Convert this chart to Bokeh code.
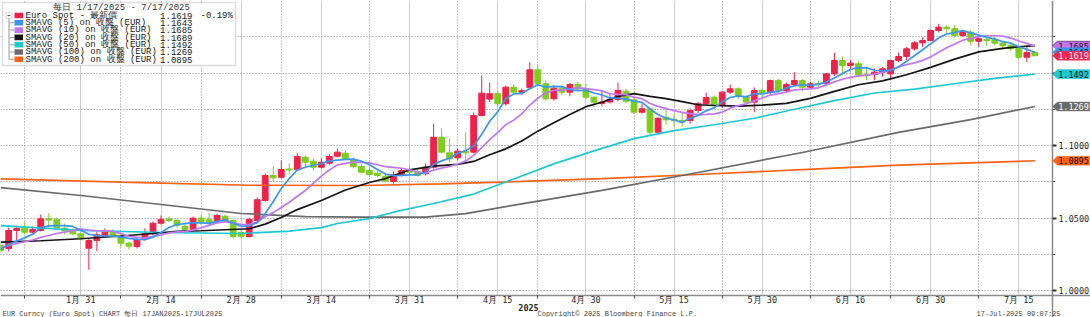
from bokeh.plotting import figure
from bokeh.models import (Range1d, FixedTicker, NumeralTickFormatter, BoxAnnotation,
                          PolyAnnotation, Label, ColumnDataSource)
from bokeh.embed import file_html
from bokeh.resources import INLINE

# ---------------- data (EUR/USD daily, 17 Jan 2025 - 17 Jul 2025) ----------------
opens = [1.0310, 1.0290, 1.0414, 1.0430, 1.0402, 1.0414, 1.0494, 1.0488, 1.0430, 1.0414,
         1.0391, 1.0292, 1.0345, 1.0372, 1.0402, 1.0372, 1.0326, 1.0303, 1.0357, 1.0391,
         1.0464, 1.0494, 1.0483, 1.0443, 1.0421, 1.0499, 1.0488, 1.0476, 1.0512, 1.0483,
         1.0400, 1.0372, 1.0483, 1.0621, 1.0793, 1.0781, 1.0838, 1.0832, 1.0919, 1.0892,
         1.0850, 1.0878, 1.0926, 1.0947, 1.0901, 1.0855, 1.0828, 1.0809, 1.0788, 1.0752,
         1.0798, 1.0828, 1.0821, 1.0805, 1.0850, 1.1057, 1.0950, 1.0915, 1.0961, 1.0954,
         1.1207, 1.1320, 1.1357, 1.1288, 1.1402, 1.1368, 1.1398, 1.1522, 1.1426, 1.1322,
         1.1395, 1.1368, 1.1421, 1.1390, 1.1333, 1.1290, 1.1300, 1.1318, 1.1375, 1.1315,
         1.1230, 1.1253, 1.1092, 1.1195, 1.1180, 1.1172, 1.1172, 1.1241, 1.1288, 1.1333,
         1.1276, 1.1368, 1.1391, 1.1338, 1.1299, 1.1379, 1.1368, 1.1448, 1.1379, 1.1420,
         1.1448, 1.1402, 1.1426, 1.1426, 1.1494, 1.1586, 1.1552, 1.1563, 1.1488, 1.1490,
         1.1506, 1.1494, 1.1586, 1.1614, 1.1667, 1.1708, 1.1724, 1.1793, 1.1816, 1.1805,
         1.1759, 1.1781, 1.1719, 1.1731, 1.1729, 1.1706, 1.1690, 1.1674, 1.1609, 1.1641]
highs = [1.0331, 1.0434, 1.0441, 1.0469, 1.0441, 1.0524, 1.0533, 1.0503, 1.0462, 1.0428,
         1.0400, 1.0359, 1.0407, 1.0428, 1.0421, 1.0386, 1.0338, 1.0366, 1.0430, 1.0476,
         1.0517, 1.0507, 1.0490, 1.0455, 1.0510, 1.0517, 1.0533, 1.0531, 1.0524, 1.0490,
         1.0421, 1.0503, 1.0641, 1.0807, 1.0855, 1.0897, 1.0876, 1.0947, 1.0931, 1.0910,
         1.0912, 1.0938, 1.0979, 1.0966, 1.0917, 1.0869, 1.0855, 1.0828, 1.0807, 1.0821,
         1.0841, 1.0855, 1.0841, 1.0876, 1.1150, 1.1117, 1.1046, 1.0979, 1.1092, 1.1228,
         1.1483, 1.1434, 1.1380, 1.1414, 1.1421, 1.1392, 1.1574, 1.1552, 1.1448, 1.1414,
         1.1414, 1.1430, 1.1440, 1.1425, 1.1340, 1.1380, 1.1360, 1.1434, 1.1390, 1.1330,
         1.1290, 1.1265, 1.1195, 1.1265, 1.1215, 1.1230, 1.1255, 1.1300, 1.1365, 1.1345,
         1.1375, 1.1420, 1.1400, 1.1345, 1.1400, 1.1390, 1.1455, 1.1460, 1.1435, 1.1506,
         1.1460, 1.1440, 1.1450, 1.1500, 1.1639, 1.1614, 1.1590, 1.1580, 1.1540, 1.1530,
         1.1540, 1.1590, 1.1640, 1.1680, 1.1720, 1.1745, 1.1800, 1.1839, 1.1830, 1.1830,
         1.1795, 1.1795, 1.1760, 1.1750, 1.1750, 1.1720, 1.1700, 1.1690, 1.1680, 1.1650]
lows = [1.0262, 1.0269, 1.0345, 1.0386, 1.0393, 1.0407, 1.0434, 1.0428, 1.0386, 1.0379,
        1.0345, 1.0143, 1.0271, 1.0366, 1.0372, 1.0297, 1.0283, 1.0290, 1.0345, 1.0379,
        1.0455, 1.0469, 1.0434, 1.0407, 1.0414, 1.0455, 1.0448, 1.0469, 1.0469, 1.0359,
        1.0362, 1.0366, 1.0476, 1.0614, 1.0747, 1.0772, 1.0807, 1.0828, 1.0850, 1.0828,
        1.0841, 1.0869, 1.0917, 1.0897, 1.0841, 1.0807, 1.0786, 1.0779, 1.0745, 1.0738,
        1.0786, 1.0800, 1.0786, 1.0793, 1.0841, 1.0945, 1.0883, 1.0897, 1.0876, 1.0945,
        1.1200, 1.1300, 1.1265, 1.1276, 1.1352, 1.1350, 1.1393, 1.1414, 1.1310, 1.1310,
        1.1345, 1.1340, 1.1375, 1.1320, 1.1265, 1.1270, 1.1290, 1.1305, 1.1290, 1.1215,
        1.1220, 1.1065, 1.1085, 1.1145, 1.1130, 1.1130, 1.1150, 1.1220, 1.1280, 1.1250,
        1.1260, 1.1355, 1.1320, 1.1280, 1.1230, 1.1330, 1.1355, 1.1360, 1.1365, 1.1410,
        1.1375, 1.1390, 1.1390, 1.1415, 1.1480, 1.1490, 1.1520, 1.1470, 1.1450, 1.1450,
        1.1475, 1.1455, 1.1575, 1.1590, 1.1655, 1.1680, 1.1720, 1.1780, 1.1760, 1.1740,
        1.1750, 1.1690, 1.1680, 1.1685, 1.1690, 1.1660, 1.1650, 1.1595, 1.1574, 1.1615]
closes = [1.0276, 1.0414, 1.0428, 1.0402, 1.0421, 1.0494, 1.0486, 1.0432, 1.0410, 1.0391,
          1.0363, 1.0345, 1.0384, 1.0402, 1.0379, 1.0326, 1.0306, 1.0350, 1.0391, 1.0464,
          1.0490, 1.0483, 1.0448, 1.0421, 1.0499, 1.0476, 1.0471, 1.0517, 1.0478, 1.0372,
          1.0375, 1.0490, 1.0626, 1.0793, 1.0777, 1.0834, 1.0831, 1.0924, 1.0885, 1.0850,
          1.0885, 1.0924, 1.0954, 1.0908, 1.0855, 1.0816, 1.0800, 1.0793, 1.0754, 1.0798,
          1.0828, 1.0816, 1.0793, 1.0850, 1.1057, 1.0954, 1.0908, 1.0961, 1.0950, 1.1207,
          1.1361, 1.1357, 1.1288, 1.1402, 1.1368, 1.1378, 1.1522, 1.1426, 1.1322, 1.1395,
          1.1368, 1.1421, 1.1390, 1.1333, 1.1299, 1.1300, 1.1318, 1.1379, 1.1306, 1.1230,
          1.1253, 1.1092, 1.1188, 1.1177, 1.1172, 1.1163, 1.1241, 1.1288, 1.1331, 1.1276,
          1.1368, 1.1391, 1.1345, 1.1299, 1.1379, 1.1361, 1.1448, 1.1379, 1.1420, 1.1448,
          1.1402, 1.1426, 1.1420, 1.1494, 1.1586, 1.1552, 1.1568, 1.1488, 1.1482, 1.1506,
          1.1529, 1.1586, 1.1614, 1.1667, 1.1708, 1.1724, 1.1793, 1.1816, 1.1805, 1.1759,
          1.1785, 1.1719, 1.1736, 1.1724, 1.1706, 1.1690, 1.1669, 1.1609, 1.1641, 1.1619]

sma5 = [1.0283, 1.0317, 1.0341, 1.0363, 1.0388, 1.0432, 1.0446, 1.0447, 1.0448, 1.0442,
        1.0416, 1.0388, 1.0378, 1.0377, 1.0374, 1.0368, 1.0359, 1.0352, 1.0350, 1.0368,
        1.0400, 1.0435, 1.0455, 1.0461, 1.0468, 1.0466, 1.0463, 1.0477, 1.0488, 1.0463,
        1.0443, 1.0446, 1.0468, 1.0531, 1.0612, 1.0704, 1.0772, 1.0831, 1.0850, 1.0864,
        1.0874, 1.0894, 1.0899, 1.0904, 1.0906, 1.0892, 1.0867, 1.0834, 1.0803, 1.0792,
        1.0794, 1.0798, 1.0798, 1.0817, 1.0869, 1.0894, 1.0912, 1.0946, 1.0966, 1.0996,
        1.1077, 1.1167, 1.1232, 1.1323, 1.1355, 1.1359, 1.1392, 1.1419, 1.1403, 1.1408,
        1.1406, 1.1386, 1.1379, 1.1381, 1.1362, 1.1348, 1.1328, 1.1326, 1.1320, 1.1306,
        1.1297, 1.1252, 1.1214, 1.1188, 1.1177, 1.1159, 1.1188, 1.1208, 1.1239, 1.1260,
        1.1301, 1.1331, 1.1342, 1.1336, 1.1357, 1.1355, 1.1366, 1.1373, 1.1397, 1.1411,
        1.1419, 1.1415, 1.1423, 1.1438, 1.1466, 1.1496, 1.1524, 1.1537, 1.1535, 1.1519,
        1.1514, 1.1518, 1.1543, 1.1580, 1.1621, 1.1660, 1.1701, 1.1741, 1.1769, 1.1779,
        1.1792, 1.1777, 1.1761, 1.1746, 1.1735, 1.1716, 1.1706, 1.1681, 1.1663, 1.1643]
sma10 = [1.0299, 1.0310, 1.0324, 1.0336, 1.0348, 1.0366, 1.0379, 1.0393, 1.0403, 1.0415,
         1.0424, 1.0417, 1.0412, 1.0412, 1.0408, 1.0392, 1.0374, 1.0366, 1.0363, 1.0371,
         1.0383, 1.0397, 1.0404, 1.0406, 1.0418, 1.0432, 1.0449, 1.0466, 1.0474, 1.0466,
         1.0454, 1.0454, 1.0472, 1.0510, 1.0537, 1.0573, 1.0609, 1.0650, 1.0690, 1.0738,
         1.0789, 1.0832, 1.0866, 1.0877, 1.0885, 1.0883, 1.0880, 1.0867, 1.0854, 1.0849,
         1.0843, 1.0832, 1.0816, 1.0810, 1.0830, 1.0844, 1.0855, 1.0872, 1.0892, 1.0932,
         1.0986, 1.1040, 1.1089, 1.1144, 1.1175, 1.1218, 1.1279, 1.1326, 1.1363, 1.1381,
         1.1382, 1.1389, 1.1399, 1.1392, 1.1386, 1.1377, 1.1357, 1.1352, 1.1351, 1.1334,
         1.1323, 1.1290, 1.1270, 1.1254, 1.1241, 1.1228, 1.1220, 1.1211, 1.1214, 1.1218,
         1.1230, 1.1259, 1.1275, 1.1288, 1.1308, 1.1328, 1.1348, 1.1358, 1.1367, 1.1384,
         1.1387, 1.1390, 1.1398, 1.1418, 1.1439, 1.1457, 1.1470, 1.1480, 1.1486, 1.1492,
         1.1505, 1.1521, 1.1541, 1.1558, 1.1570, 1.1587, 1.1610, 1.1643, 1.1674, 1.1700,
         1.1726, 1.1739, 1.1751, 1.1757, 1.1757, 1.1754, 1.1741, 1.1721, 1.1704, 1.1685]

sma20_idx = [0, 5, 10, 15, 19, 22, 25, 28, 31, 33, 35, 37, 40, 43, 46, 48, 51, 54, 57, 59,
             61, 63, 65, 67, 69, 71, 73, 75, 77, 79, 81, 83, 85, 87, 89, 92, 95, 98, 101,
             104, 107, 110, 113, 116, 119, 122, 125, 127, 129]
sma20 = [1.0333, 1.0343, 1.0357, 1.0376, 1.0393, 1.0408, 1.0412, 1.0419, 1.0426, 1.0458,
         1.0503, 1.0558, 1.0621, 1.0693, 1.0745, 1.0772, 1.0832, 1.0858, 1.0870, 1.0890,
         1.0936, 1.0977, 1.1031, 1.1099, 1.1157, 1.1214, 1.1268, 1.1298, 1.1339, 1.1358,
         1.1339, 1.1323, 1.1303, 1.1281, 1.1276, 1.1272, 1.1278, 1.1290, 1.1325, 1.1373,
         1.1419, 1.1446, 1.1488, 1.1539, 1.1596, 1.1646, 1.1670, 1.1681, 1.1689]

sma50_idx = [0, 10, 20, 30, 36, 40, 42, 46, 49, 54, 59, 64, 69, 74, 79, 84, 89, 94, 99,
             104, 109, 114, 119, 124, 129]
sma50 = [1.0448, 1.0414, 1.0400, 1.0393, 1.0410, 1.0434, 1.0462, 1.0496, 1.0540, 1.0600,
         1.0665, 1.0769, 1.0873, 1.0963, 1.1047, 1.1103, 1.1143, 1.1188, 1.1250, 1.1310,
         1.1362, 1.1389, 1.1426, 1.1463, 1.1492]

sma100_idx = [0, 10, 20, 30, 38, 45, 53, 58, 65, 75, 87, 100, 112, 121, 129]
sma100 = [1.0710, 1.0655, 1.0593, 1.0531, 1.0510, 1.0506, 1.0506, 1.0530, 1.0598, 1.0690,
          1.0814, 1.0952, 1.1090, 1.1179, 1.1269]

sma200_idx = [0, 15, 31, 45, 55, 65, 75, 87, 100, 112, 121, 129]
sma200 = [1.0770, 1.0748, 1.0726, 1.0724, 1.0735, 1.0752, 1.0772, 1.0800, 1.0834, 1.0864,
          1.0880, 1.0895]

tick_idx = [10, 20, 30, 40, 51, 62, 73, 84, 95, 106, 116, 127]
tick_labels = ["1月 31", "2月 14", "2月 28", "3月 14", "3月 31", "4月 15",
               "4月 30", "5月 15", "5月 30", "6月 16", "6月 30", "7月 15"]
minor_idx = [3, 15, 25, 35, 46, 57, 67, 79, 90, 101, 111, 122]

legend_names = ["Euro Spot - 最新價", "SMAVG (5) on 收盤 (EUR)", "SMAVG (10) on 收盤 (EUR)",
                "SMAVG (20) on 收盤 (EUR)", "SMAVG (50) on 收盤 (EUR)",
                "SMAVG (100) on 收盤 (EUR)", "SMAVG (200) on 收盤 (EUR)"]
legend_values = ["1.1619", "1.1643", "1.1685", "1.1689", "1.1492", "1.1269", "1.0895"]
last_change = "-0.19%"
last_values = [1.1619, 1.1643, 1.1685, 1.1689, 1.1492, 1.1269, 1.0895]

# ---------------- styling / layout ----------------
UP = "#f0224a"
DOWN = "#7ccd1c"
C_SPOT = "#f0224a"
C5, C10, C20, C50, C100, C200 = "#3a96f0", "#c575f4", "#151515", "#1cc9d3", "#6a6a6a", "#ff6212"

W, H = 1090, 317
PX_PER_BAR = 8.017          # horizontal scale (pixels per trading day)
PX_PER_UNIT = 1450.0        # vertical scale (pixels per 1.0 of price)
X0 = -0.02
XE = X0 + W / PX_PER_BAR
YT = 1.2
YB = YT - H / PX_PER_UNIT


def X(px):
    return X0 + px / PX_PER_BAR


def Y(py):
    return YT - py / PX_PER_UNIT


MONO = "DejaVu Sans Mono"
LMONO = "Liberation Mono"

p = figure(width=W, height=H, x_range=Range1d(X0, XE), y_range=Range1d(YB, YT),
           output_backend="svg", toolbar_location=None, y_axis_location="right",
           x_axis_location="below", min_border=0, min_border_left=0, min_border_right=0,
           min_border_top=0, min_border_bottom=0, title=None)
p.outline_line_color = None
p.background_fill_color = "white"
p.border_fill_color = "white"

# axes, drawn at fixed positions inside the canvas
p.xaxis.fixed_location = Y(295)
p.yaxis.fixed_location = X(1052)

p.xaxis.ticker = FixedTicker(ticks=tick_idx, minor_ticks=minor_idx)
p.xaxis.major_label_overrides = {t: lab for t, lab in zip(tick_idx, tick_labels)}
p.xaxis.axis_line_color = "#8a8a8a"
p.xaxis.axis_line_width = 1.5
p.xaxis.major_tick_in = 0
p.xaxis.major_tick_out = 0
p.xaxis.minor_tick_in = 0
p.xaxis.minor_tick_out = 3
p.xaxis.minor_tick_line_color = "#444444"
p.xaxis.major_label_standoff = -4
p.xaxis.major_label_text_font = MONO
p.xaxis.major_label_text_font_size = "8.5px"
p.xaxis.major_label_text_color = "#2a2a2a"

p.yaxis.ticker = FixedTicker(ticks=[1.0, 1.05, 1.1, 1.15], minor_ticks=[1.025, 1.075, 1.125, 1.175])
p.yaxis.formatter = NumeralTickFormatter(format="0.0000")
p.yaxis.axis_line_color = "#8a8a8a"
p.yaxis.axis_line_width = 1.5
p.yaxis.major_tick_in = 0
p.yaxis.major_tick_out = 4
p.yaxis.major_tick_line_width = 2
p.yaxis.major_tick_line_color = "#333333"
p.yaxis.minor_tick_in = 0
p.yaxis.minor_tick_out = 3
p.yaxis.minor_tick_line_color = "#555555"
p.yaxis.major_label_standoff = 2
p.yaxis.major_label_text_font = MONO
p.yaxis.major_label_text_font_size = "8.5px"
p.yaxis.major_label_text_color = "#2a2a2a"

p.xgrid.grid_line_color = "#cccccc"
p.xgrid.grid_line_width = 1
p.xgrid.minor_grid_line_color = "#8c8c8c"
p.xgrid.minor_grid_line_dash = "1 2"
p.ygrid.grid_line_color = "#8c8c8c"
p.ygrid.grid_line_dash = "1 2"
p.ygrid.minor_grid_line_color = "#8c8c8c"
p.ygrid.minor_grid_line_dash = "1 2"

# white margins (cover grid lines outside the chart area)
p.add_layout(BoxAnnotation(left=X(1052), right=XE, top=YT, bottom=YB, fill_color="white",
                           fill_alpha=1, line_color=None, level="underlay"))
p.add_layout(BoxAnnotation(left=X0, right=XE, top=Y(295), bottom=YB, fill_color="white",
                           fill_alpha=1, line_color=None, level="underlay"))

# candles
idx = list(range(len(closes)))
colors = [UP if c >= o else DOWN for o, c in zip(opens, closes)]
src = ColumnDataSource(dict(
    x=idx, high=highs, low=lows,
    top=[max(o, c) for o, c in zip(opens, closes)],
    bottom=[min(o, c) for o, c in zip(opens, closes)],
    color=colors))
p.segment(x0="x", y0="low", x1="x", y1="high", source=src, line_color="color", line_width=1)
p.vbar(x="x", width=0.72, top="top", bottom="bottom", source=src,
       fill_color="color", line_color="color", line_width=1)

# moving averages
p.line(sma200_idx, sma200, line_color=C200, line_width=1.7)
p.line(sma100_idx, sma100, line_color=C100, line_width=1.7)
p.line(sma50_idx, sma50, line_color=C50, line_width=1.7)
p.line(sma20_idx, sma20, line_color=C20, line_width=1.7)
p.line(idx, sma10, line_color=C10, line_width=1.7)
p.line(idx, sma5, line_color=C5, line_width=1.7)

# legend box
p.add_layout(BoxAnnotation(left=X(2), right=X(235), top=Y(2), bottom=Y(65),
                           fill_color="white", fill_alpha=1.0,
                           line_color="#8f8f8f", line_width=1.5))
p.add_layout(Label(x=X(121), y=Y(7.5), text="每日 1/17/2025 - 7/17/2025",
                   text_font=LMONO, text_font_size="9px", text_color="#333333",
                   text_align="center", text_baseline="middle"))
sw_colors = [C_SPOT, C5, C10, C20, C50, C100, C200]
p.add_layout(BoxAnnotation(left=X(8), right=X(9), top=Y(18), bottom=Y(59),
                           fill_color="#9a9a9a", fill_alpha=1, line_color=None))
p.add_layout(BoxAnnotation(left=X(5.5), right=X(11.5), top=Y(12), bottom=Y(18),
                           fill_color="white", fill_alpha=1, line_color="#8a8a8a", line_width=1))
p.add_layout(BoxAnnotation(left=X(7), right=X(10), top=Y(14.6), bottom=Y(15.4),
                           fill_color="#666666", fill_alpha=1, line_color=None))
for k, (name, val, col) in enumerate(zip(legend_names, legend_values, sw_colors)):
    ry = 15 + 7.3 * k
    if k > 0:
        p.add_layout(BoxAnnotation(left=X(9), right=X(13.5), top=Y(ry - 0.5), bottom=Y(ry + 0.5),
                                   fill_color="#9a9a9a", fill_alpha=1, line_color=None))
    p.add_layout(BoxAnnotation(left=X(14), right=X(22.5), top=Y(ry - 2.8), bottom=Y(ry + 2.8),
                               fill_color=col, fill_alpha=1, line_color=None))
    p.add_layout(Label(x=X(25), y=Y(ry + 0.3), text=name, text_font=LMONO, text_font_size="9px",
                       text_color="#1a1a1a", text_align="left", text_baseline="middle"))
    p.add_layout(Label(x=X(192), y=Y(ry + 0.3), text=val, text_font=LMONO, text_font_size="9px",
                       text_color="#1a1a1a", text_align="right", text_baseline="middle"))
p.add_layout(Label(x=X(200), y=Y(15.3), text=last_change, text_font=LMONO, text_font_size="9px",
                   text_color="#1a1a1a", text_align="left", text_baseline="middle"))

# price tags on the right axis
tag_order = [3, 2, 1, 0, 4, 5, 6]
tag_colors = [C_SPOT, C5, C10, C20, C50, C100, C200]
tag_text_colors = ["white", "#111111", "#111111", "white", "#111111", "white", "#111111"]
hh = 4.6 / PX_PER_UNIT
for k in tag_order:
    v = last_values[k]
    p.add_layout(PolyAnnotation(xs=[X(1052), X(1057), X(1089), X(1089), X(1057)],
                                ys=[v, v + hh, v + hh, v - hh, v - hh],
                                fill_color=tag_colors[k], fill_alpha=1.0,
                                line_color="#333333" if k == 3 else tag_colors[k], line_width=1))
    p.add_layout(Label(x=X(1073), y=v, text=legend_values[k], text_font=MONO,
                       text_font_size="8.5px", text_color=tag_text_colors[k],
                       text_align="center", text_baseline="middle"))

# footer
p.add_layout(Label(x=X(528), y=Y(306.5), text="2025", text_font=MONO, text_font_size="8.5px",
                   text_font_style="bold", text_color="#2a2a2a", text_align="center",
                   text_baseline="middle"))
p.add_layout(Label(x=X(2), y=Y(313), text="EUR Curncy (Euro Spot) CHART  每日 17JAN2025-17JUL2025",
                   text_font=LMONO, text_font_size="7px", text_color="#444444",
                   text_align="left", text_baseline="middle"))
p.add_layout(Label(x=X(537), y=Y(313), text="Copyright© 2025 Bloomberg Finance L.P.",
                   text_font=LMONO, text_font_size="7px", text_color="#444444",
                   text_align="left", text_baseline="middle"))
p.add_layout(Label(x=X(1060), y=Y(313), text="17-Jul-2025 09:07:25",
                   text_font=LMONO, text_font_size="7px", text_color="#444444",
                   text_align="right", text_baseline="middle"))

open("out.html", "w").write(file_html(p, INLINE))
